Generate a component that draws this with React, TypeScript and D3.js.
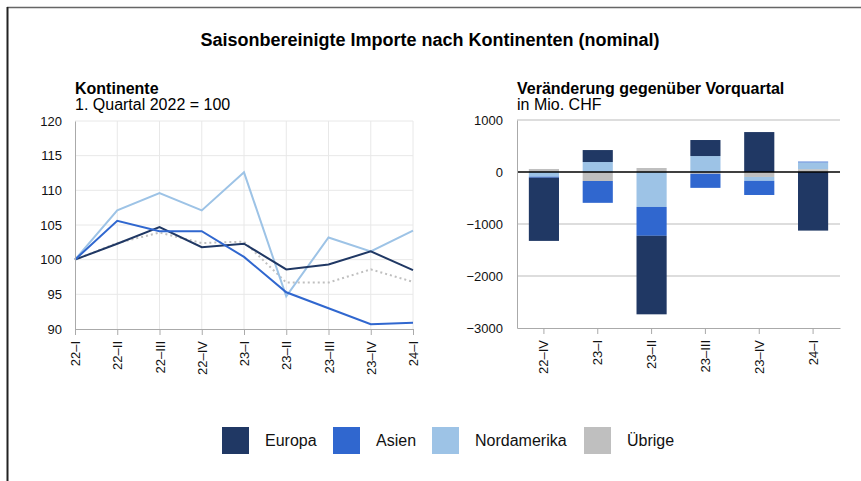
import React, { useEffect, useRef } from 'react';
import * as d3 from 'd3';

const quarters = ["22–I", "22–II", "22–III", "22–IV", "23–I", "23–II", "23–III", "23–IV", "24–I"];
const barQuarters = ["22–IV", "23–I", "23–II", "23–III", "23–IV", "24–I"];
const seriesNames = ["Europa", "Asien", "Nordamerika", "Übrige"];

// index values, 1. Quartal 2022 = 100
const europaIdx = [100, 102.3, 104.7, 101.8, 102.3, 98.6, 99.3, 101.2, 98.5];
const asienIdx = [100, 105.6, 104.1, 104.1, 100.4, 95.3, 93.0, 90.7, 90.9];
const nordamerikaIdx = [100, 107.1, 109.6, 107.1, 112.6, 94.7, 103.2, 101.2, 104.2];
const uebrigeIdx = [100, 102.4, 103.9, 102.4, 102.6, 96.7, 96.7, 98.6, 96.8];

// change vs previous quarter, Mio. CHF
const europaChg = [-1215, 230, -1510, 308, 768, -1127];
const asienChg = [-20, -420, -555, -270, -272, 15];
const nordamerikaChg = [-90, 192, -672, 307, -75, 130];
const uebrigeChg = [58, -173, 77, -35, -95, 55];

const leftTicks = [90, 95, 100, 105, 110, 115, 120];
const rightTicks = [-3000, -2000, -1000, 0, 1000];

const colors: Record<string, string> = {
  "Europa": "#203864",
  "Asien": "#3067cf",
  "Nordamerika": "#9dc3e6",
  "Übrige": "#bfbfbf",
};

const font = "'Liberation Sans', Arial, sans-serif";

const App: React.FC = () => {
  const ref = useRef<SVGSVGElement | null>(null);

  useEffect(() => {
    if (!ref.current) return;
    const svg = d3.select(ref.current);
    svg.selectAll("*").remove();

    // frame
    svg.append("line").attr("x1", 7).attr("x2", 861).attr("y1", 7.5).attr("y2", 7.5)
      .attr("stroke", "#666").attr("stroke-width", 1.5);
    svg.append("line").attr("x1", 7.5).attr("x2", 7.5).attr("y1", 7).attr("y2", 481)
      .attr("stroke", "#222").attr("stroke-width", 2);

    svg.append("text").attr("x", 430).attr("y", 46).attr("text-anchor", "middle")
      .attr("font-size", 18).attr("font-weight", "bold").text("Saisonbereinigte Importe nach Kontinenten (nominal)");

    // ---- left chart ----
    const x = d3.scalePoint().domain(quarters).range([75, 413]);
    const y = d3.scaleLinear().domain([90, 120]).range([329, 121]);

    svg.append("text").attr("x", 75).attr("y", 94).attr("font-size", 16).attr("font-weight", "bold").text("Kontinente");
    svg.append("text").attr("x", 75).attr("y", 110).attr("font-size", 16).text("1. Quartal 2022 = 100");

    const lg = svg.append("g");
    lg.selectAll(".hg").data(leftTicks.slice(1)).join("line")
      .attr("x1", 75).attr("x2", 413).attr("y1", d => y(d)).attr("y2", d => y(d))
      .attr("stroke", "#e8e8e8");
    lg.selectAll(".vg").data(quarters.slice(1)).join("line")
      .attr("x1", d => x(d)!).attr("x2", d => x(d)!).attr("y1", 121).attr("y2", 329)
      .attr("stroke", "#e8e8e8");

    const leftSeries = [
      { name: "Übrige", values: uebrigeIdx, dash: "2,3" },
      { name: "Nordamerika", values: nordamerikaIdx, dash: null },
      { name: "Europa", values: europaIdx, dash: null },
      { name: "Asien", values: asienIdx, dash: null },
    ];
    const line = d3.line<number>().x((_, i) => x(quarters[i])!).y(d => y(d));
    leftSeries.forEach(s => {
      lg.append("path").attr("d", line(s.values)!).attr("fill", "none")
        .attr("stroke", colors[s.name]).attr("stroke-width", 2)
        .attr("stroke-dasharray", s.dash);
    });

    const yAxisL = lg.append("g").attr("transform", "translate(75,0)")
      .call(d3.axisLeft(y).tickValues(leftTicks).tickSize(0).tickPadding(13));
    yAxisL.select(".domain").attr("stroke", "#aaa");
    yAxisL.selectAll("text").attr("font-size", 13).attr("font-family", font).attr("fill", "#111");

    const xAxisL = lg.append("g").attr("transform", "translate(0,329)")
      .call(d3.axisBottom(x).tickSize(6).tickSizeOuter(0));
    xAxisL.select(".domain").attr("stroke", "#aaa");
    xAxisL.selectAll("line").attr("stroke", "#aaa");
    xAxisL.selectAll("text").attr("font-size", 13).attr("font-family", font).attr("fill", "#111")
      .attr("transform", "rotate(-90)").attr("text-anchor", "end")
      .attr("x", -12).attr("y", 0).attr("dy", "0.35em");

    // ---- right chart ----
    const xb = d3.scaleBand().domain(barQuarters).range([517, 840]).paddingInner(0.44).paddingOuter(0.22);
    const yb = d3.scaleLinear().domain([-3000, 1000]).range([328, 120]);

    svg.append("text").attr("x", 517).attr("y", 94).attr("font-size", 16).attr("font-weight", "bold").text("Veränderung gegenüber Vorquartal");
    svg.append("text").attr("x", 517).attr("y", 110).attr("font-size", 16).text("in Mio. CHF");

    const rg = svg.append("g");
    rg.selectAll(".hg").data([-2000, -1000, 1000]).join("line")
      .attr("x1", 517).attr("x2", 840).attr("y1", d => yb(d)).attr("y2", d => yb(d))
      .attr("stroke", "#bbb");

    const table = barQuarters.map((q, i) => ({
      q,
      "Europa": europaChg[i],
      "Asien": asienChg[i],
      "Nordamerika": nordamerikaChg[i],
      "Übrige": uebrigeChg[i],
    }));
    const stackKeys = [...seriesNames].reverse();
    const stacked = d3.stack<any>().keys(stackKeys).offset(d3.stackOffsetDiverging)(table);
    stacked.forEach(layer => {
      rg.append("g").selectAll("rect").data(layer).join("rect")
        .attr("x", d => xb(d.data.q)!)
        .attr("width", xb.bandwidth())
        .attr("y", d => yb(Math.max(d[0], d[1])))
        .attr("height", d => Math.abs(yb(d[0]) - yb(d[1])))
        .attr("fill", colors[layer.key]);
    });

    rg.append("line").attr("x1", 517).attr("x2", 840).attr("y1", yb(0)).attr("y2", yb(0))
      .attr("stroke", "#000").attr("stroke-width", 1.5);

    const yAxisR = rg.append("g").attr("transform", "translate(517,0)")
      .call(d3.axisLeft(yb).tickValues(rightTicks).tickSize(0).tickPadding(14).tickFormat(d3.format("d")));
    yAxisR.select(".domain").attr("stroke", "#aaa");
    yAxisR.selectAll("text").attr("font-size", 13).attr("font-family", font).attr("fill", "#111")
      .text(d => String(d).replace("-", "−"));

    const xAxisR = rg.append("g").attr("transform", "translate(0,328)")
      .call(d3.axisBottom(xb).tickSize(6).tickSizeOuter(0));
    xAxisR.select(".domain").attr("stroke", "#aaa");
    xAxisR.selectAll("line").attr("stroke", "#aaa");
    xAxisR.selectAll("text").attr("font-size", 13).attr("font-family", font).attr("fill", "#111")
      .attr("transform", "rotate(-90)").attr("text-anchor", "end")
      .attr("x", -12).attr("y", 0).attr("dy", "0.35em");

    // ---- legend ----
    const legendX = [222, 333, 432, 584];
    const lgd = svg.append("g").selectAll("g").data(seriesNames).join("g")
      .attr("transform", (_, i) => `translate(${legendX[i]},427)`);
    lgd.append("rect").attr("width", 27).attr("height", 27).attr("fill", d => colors[d]);
    lgd.append("text").attr("x", 43).attr("y", 19).attr("font-size", 16).attr("fill", "#111").text(d => d);
  }, []);

  return (
    <svg ref={ref} width={861} height={481}
      style={{ position: "absolute", left: 0, top: 0, fontFamily: font, background: "#fff" }} />
  );
};

export default App;
